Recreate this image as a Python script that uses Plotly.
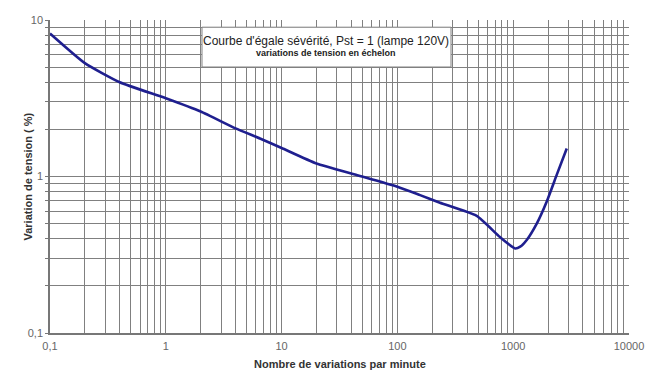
import plotly.graph_objects as go

# data
freq = [0.1, 0.2, 0.4, 1, 2, 4, 6.5, 10, 20, 45, 100, 157, 233, 484, 769, 1038, 1150, 1309, 1597, 1945, 2371, 2900]
dv = [8.2, 5.3, 4.0, 3.16, 2.6, 2.03, 1.75, 1.52, 1.21, 1.02, 0.86, 0.76, 0.68, 0.56, 0.41, 0.347, 0.356, 0.393, 0.50, 0.69, 1.02, 1.51]

x_tick_vals = [0.1, 1, 10, 100, 1000, 10000]
x_tick_text = ["0,1", "1", "10", "100", "1000", "10000"]
y_tick_vals = [0.1, 1, 10]
y_tick_text = ["0,1", "1", "10"]

title_line1 = "Courbe d'égale sévérité, Pst = 1 (lampe 120V)"
title_line2 = "variations de tension en échelon"
x_title = "Nombre de variations par minute"
y_title = "Variation de tension ( %)"


def log_grid(lo_exp, hi_exp):
    vals = []
    for e in range(lo_exp, hi_exp):
        for m in range(1, 10):
            vals.append(m * 10 ** e)
    vals.append(10 ** hi_exp)
    return vals


xg = log_grid(-1, 4)
yg = log_grid(-1, 1)
xg_text = [x_tick_text[x_tick_vals.index(v)] if v in x_tick_vals else "" for v in xg]
yg_text = [y_tick_text[y_tick_vals.index(v)] if v in y_tick_vals else "" for v in yg]

fig = go.Figure()
fig.add_trace(go.Scatter(
    x=freq, y=dv, mode="lines",
    line=dict(color="#1f1f8f", width=2.6, shape="spline", smoothing=0.5),
    hoverinfo="skip", showlegend=False,
))

grid_color = "#808080"
font_family = "Liberation Sans, Arial"
fig.update_xaxes(
    type="log", range=[-1, 4],
    tickmode="array", tickvals=xg, ticktext=xg_text,
    showgrid=True, gridcolor=grid_color, gridwidth=1,
    showline=True, linecolor="#777777", linewidth=1.5,
    ticks="outside", ticklen=2, tickcolor="rgba(0,0,0,0)",
    tickfont=dict(family=font_family, size=11, color="#666666"),
    zeroline=False, automargin=False,
)
fig.update_yaxes(
    type="log", range=[-1, 1],
    tickmode="array", tickvals=yg, ticktext=yg_text,
    showgrid=True, gridcolor=grid_color, gridwidth=1,
    showline=True, linecolor="#777777", linewidth=1.5,
    ticks="outside", ticklen=3, tickcolor="#777777",
    tickfont=dict(family=font_family, size=11, color="#666666"),
    zeroline=False, automargin=False,
)

# axis titles
fig.add_annotation(
    xref="paper", yref="paper", x=0.5, y=-0.099, xanchor="center", yanchor="middle",
    text="<b>" + x_title + "</b>", showarrow=False,
    font=dict(family=font_family, size=11, color="#333333"),
)
fig.add_annotation(
    xref="paper", yref="paper", x=-0.0397, y=0.5, xanchor="center", yanchor="middle",
    text="<b>" + y_title + "</b>", showarrow=False, textangle=-90,
    font=dict(family=font_family, size=11, color="#333333"),
)

# title box
fig.add_shape(
    type="rect", xref="paper", yref="paper",
    x0=0.2625, x1=0.6926, y0=0.8498, y1=0.977,
    fillcolor="white", line=dict(color="#808080", width=1), layer="above",
)
fig.add_annotation(
    xref="paper", yref="paper", x=0.4775, y=0.933, xanchor="center", yanchor="middle",
    text=title_line1, showarrow=False,
    font=dict(family=font_family, size=12, color="#222222"),
)
fig.add_annotation(
    xref="paper", yref="paper", x=0.4775, y=0.8946, xanchor="center", yanchor="middle",
    text="<b>" + title_line2 + "</b>", showarrow=False,
    font=dict(family=font_family, size=9, color="#222222"),
)

# the page body has an 8px margin; margins compensate so the plot lands where the reference has it
fig.update_layout(
    width=672, height=377,
    margin=dict(l=42, r=51, t=12, b=52),
    paper_bgcolor="white", plot_bgcolor="white",
)

fig.write_html("out.html")
